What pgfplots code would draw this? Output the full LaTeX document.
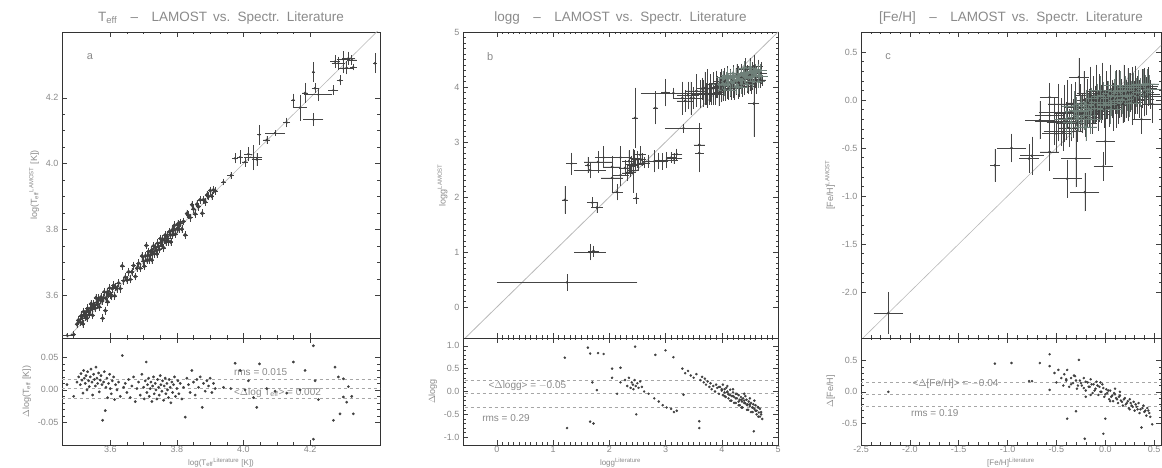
\documentclass[border=0pt]{standalone}
\usepackage{fontspec}
\setmainfont{Liberation Sans}
\usepackage{pgfplots}
\pgfplotsset{compat=1.18}
\usepackage{pgfplotstable}

\definecolor{txt}{HTML}{8A8A8A}
\definecolor{pts}{HTML}{404040}
\definecolor{ebar}{HTML}{454545}
\definecolor{dense}{HTML}{6F8079}
\definecolor{refl}{HTML}{B8B8B8}

% ---------------- Panel a ----------------
\pgfplotstableread{
x d
3.490 -0.010
3.500 0.012
3.505 0.020
3.510 0.008
3.512 0.025
3.515 0.015
3.518 -0.005
3.520 0.030
3.522 0.018
3.525 0.010
3.527 0.022
3.530 0.000
3.532 0.028
3.535 0.014
3.537 0.005
3.540 0.020
3.542 0.032
3.545 0.012
3.547 -0.008
3.550 0.024
3.552 0.016
3.555 0.006
3.557 0.035
3.560 0.018
3.562 0.010
3.565 0.026
3.567 -0.003
3.570 0.015
3.572 0.022
3.575 0.008
3.577 -0.047
3.580 0.012
3.582 0.028
3.585 -0.032
3.587 0.004
3.590 0.018
3.592 -0.012
3.595 0.010
3.598 0.024
3.600 0.002
3.603 -0.006
3.606 0.014
3.610 0.020
3.613 -0.015
3.616 0.008
3.620 0.000
3.625 0.012
3.630 -0.010
3.636 0.053
3.640 0.004
3.645 0.010
3.650 -0.004
3.655 0.016
3.660 -0.012
3.665 0.006
3.670 0.020
3.675 -0.018
3.680 0.002
3.685 0.012
3.690 -0.008
3.695 0.024
3.700 0.004
3.702 -0.014
3.705 0.014
3.708 0.043
3.710 -0.004
3.712 0.008
3.715 0.018
3.717 -0.010
3.720 0.002
3.722 0.012
3.725 -0.018
3.727 0.006
3.730 0.020
3.732 -0.006
3.735 0.010
3.737 0.000
3.740 -0.014
3.742 0.016
3.745 0.004
3.747 -0.008
3.750 0.022
3.752 0.008
3.755 -0.002
3.757 0.014
3.760 -0.016
3.762 0.006
3.765 0.018
3.767 -0.006
3.770 0.010
3.772 0.000
3.775 -0.012
3.777 0.016
3.780 0.004
3.782 -0.020
3.785 0.012
3.787 -0.004
3.790 0.008
3.793 0.020
3.796 -0.010
3.800 0.002
3.803 0.014
3.806 -0.006
3.810 0.010
3.815 -0.014
3.820 0.004
3.825 -0.042
3.830 0.018
3.835 0.008
3.840 -0.004
3.845 0.030
3.850 0.012
3.855 -0.008
3.860 0.016
3.865 0.004
3.870 0.020
3.876 -0.027
3.880 0.010
3.885 -0.002
3.890 0.014
3.895 0.006
3.900 0.018
3.905 -0.004
3.910 0.010
3.915 0.002
}\tabAdense

\pgfplotstableread{
x d ex ey
3.470 0.008 0.020 0.006
3.940 0.004 0.008 0.010
3.962 0.002 0.010 0.012
3.975 0.041 0.008 0.015
3.990 0.030 0.008 0.020
4.005 0.000 0.010 0.015
4.015 0.014 0.012 0.020
4.030 -0.012 0.027 0.038
4.040 -0.027 0.015 0.020
4.048 0.040 0.006 0.030
4.070 0.002 0.010 0.012
4.095 -0.002 0.030 0.008
4.130 -0.005 0.010 0.015
4.150 0.043 0.006 0.020
4.170 0.000 0.020 0.040
4.185 0.030 0.008 0.030
4.210 0.068 0.005 0.030
4.215 0.014 0.010 0.015
4.225 -0.015 0.042 0.020
4.210 -0.076 0.030 0.020
4.270 -0.047 0.015 0.015
4.275 0.035 0.015 0.020
4.285 0.020 0.020 0.020
4.290 -0.037 0.010 0.015
4.300 0.017 0.020 0.025
4.300 -0.011 0.015 0.015
4.310 -0.019 0.020 0.020
4.315 0.005 0.020 0.020
4.325 -0.010 0.015 0.015
4.330 -0.037 0.010 0.010
4.395 -0.090 0.005 0.030
}\tabAhot

% ---------------- Panel b ----------------
\pgfplotstableread{
x d ex ey
1.25 -0.80 1.25 0.15
1.66 -0.66 0.28 0.15
1.72 -0.70 0.10 0.10
1.21 0.74 0.05 0.25
1.33 1.28 0.10 0.20
1.70 0.20 0.10 0.10
1.78 0.03 0.10 0.10
1.66 0.83 0.28 0.15
1.80 0.84 0.25 0.20
1.90 0.82 0.15 0.20
1.62 0.96 0.05 0.15
2.05 0.50 0.15 0.20
2.14 -0.05 0.10 0.15
2.20 0.52 0.20 0.20
2.05 0.30 0.20 0.25
2.20 0.20 0.15 0.20
2.28 0.25 0.10 0.15
2.32 0.12 0.10 0.15
2.35 0.30 0.12 0.20
2.38 0.08 0.10 0.10
2.40 0.20 0.10 0.15
2.42 0.15 0.08 0.10
2.43 0.05 0.10 0.40
2.45 0.25 0.10 0.15
2.46 0.98 0.05 0.55
2.47 0.12 0.10 0.10
2.48 -0.50 0.05 0.10
2.50 0.18 0.12 0.15
2.52 0.08 0.10 0.10
2.55 0.22 0.10 0.15
2.58 0.10 0.08 0.12
2.62 0.00 0.10 0.10
2.70 -0.05 0.10 0.12
2.82 0.80 0.05 0.30
2.80 -0.15 0.15 0.20
2.88 -0.22 0.10 0.15
2.95 -0.30 0.10 0.15
3.00 0.90 0.08 0.25
3.02 -0.35 0.20 0.15
3.10 -0.38 0.10 0.10
3.15 -0.45 0.15 0.10
3.20 -0.42 0.10 0.10
3.32 -0.07 0.33 0.08
3.14 0.75 0.58 0.10
3.30 0.50 0.15 0.30
3.35 0.40 0.15 0.20
3.40 0.45 0.20 0.25
3.45 0.35 0.10 0.30
3.50 0.30 0.15 0.20
3.55 0.38 0.20 0.30
3.60 -0.65 0.10 0.40
3.60 -0.80 0.08 0.35
3.62 0.25 0.15 0.25
3.65 0.32 0.10 0.20
3.68 0.20 0.20 0.25
3.70 0.28 0.15 0.30
3.72 0.15 0.10 0.20
3.75 0.22 0.20 0.35
3.78 0.10 0.15 0.20
3.80 0.18 0.10 0.25
3.82 0.05 0.20 0.20
3.85 0.12 0.15 0.30
3.88 0.00 0.10 0.20
3.90 0.15 0.20 0.25
3.92 0.08 0.15 0.20
3.95 -0.05 0.10 0.25
3.97 0.10 0.20 0.20
4.00 0.02 0.15 0.30
4.02 -0.08 0.10 0.20
4.05 0.05 0.20 0.25
4.07 -0.12 0.15 0.20
4.10 -0.02 0.10 0.30
4.12 -0.15 0.20 0.20
4.15 -0.08 0.15 0.25
4.17 -0.20 0.10 0.20
4.20 -0.10 0.20 0.30
4.22 -0.25 0.15 0.20
4.25 -0.15 0.10 0.25
4.27 -0.05 0.15 0.20
4.30 -0.22 0.20 0.30
4.32 -0.30 0.10 0.20
4.35 -0.18 0.15 0.25
4.37 -0.35 0.20 0.20
4.40 -0.25 0.10 0.30
4.42 -0.10 0.15 0.20
4.45 -0.30 0.20 0.25
4.47 -0.40 0.10 0.20
4.50 -0.28 0.15 0.30
4.52 -0.45 0.10 0.20
4.55 -0.35 0.20 0.25
4.57 -0.87 0.10 0.60
4.58 -0.20 0.15 0.20
4.60 -0.42 0.10 0.20
4.62 -0.50 0.15 0.25
4.65 -0.35 0.10 0.20
4.68 -0.55 0.10 0.15
4.70 -0.45 0.10 0.20
4.72 -0.60 0.05 0.10
}\tabB

\pgfplotstableread{
x d
3.95 0.10
4.00 0.05
4.02 0.15
4.05 -0.02
4.08 0.08
4.10 0.00
4.12 -0.06
4.15 0.04
4.18 -0.10
4.20 -0.02
4.22 -0.12
4.25 -0.05
4.27 -0.15
4.30 -0.08
4.32 -0.18
4.34 -0.12
4.36 -0.22
4.38 -0.15
4.40 -0.20
4.42 -0.26
4.44 -0.18
4.46 -0.28
4.48 -0.22
4.50 -0.32
4.52 -0.25
4.54 -0.35
4.56 -0.28
4.58 -0.38
4.60 -0.30
4.62 -0.42
4.64 -0.34
4.66 -0.46
4.68 -0.38
4.70 -0.50
4.10 0.12
4.20 0.05
4.30 -0.30
4.40 -0.05
4.50 -0.15
4.35 -0.35
4.45 -0.40
4.25 -0.25
4.15 -0.20
4.05 -0.10
4.55 -0.45
4.65 -0.55
}\tabBdense

% ---------------- Panel c ----------------
\pgfplotstableread{
x d ex ey
-2.22 0.00 0.15 0.22
-1.13 0.45 0.05 0.17
-0.96 0.46 0.15 0.15
-0.78 0.17 0.10 0.15
-0.75 0.17 0.12 0.20
-0.67 0.46 0.15 0.20
-0.57 0.60 0.10 0.15
-0.57 0.41 0.15 0.30
-0.57 0.03 0.10 0.20
-0.52 0.30 0.20 0.25
-0.50 0.15 0.15 0.20
-0.48 0.35 0.20 0.30
-0.45 0.22 0.15 0.25
-0.43 0.10 0.20 0.20
-0.42 0.28 0.10 0.30
-0.40 0.18 0.15 0.20
-0.39 0.35 0.20 0.25
-0.39 -0.43 0.15 0.20
-0.37 0.08 0.10 0.20
-0.35 0.22 0.20 0.30
-0.33 0.14 0.15 0.20
-0.31 0.25 0.10 0.25
-0.30 -0.31 0.15 0.30
-0.29 0.05 0.20 0.20
-0.27 0.51 0.10 0.20
-0.26 0.18 0.15 0.25
-0.24 0.10 0.20 0.20
-0.22 0.22 0.10 0.30
-0.21 -0.75 0.15 0.20
-0.20 0.02 0.15 0.20
-0.18 0.15 0.20 0.25
-0.16 0.08 0.10 0.20
-0.15 0.20 0.15 0.30
-0.13 -0.02 0.20 0.20
-0.12 0.12 0.15 0.25
-0.10 0.05 0.10 0.20
-0.09 0.16 0.20 0.30
-0.07 -0.05 0.15 0.20
-0.06 0.08 0.10 0.25
-0.04 0.00 0.20 0.20
-0.03 0.12 0.15 0.30
-0.02 -0.67 0.10 0.15
-0.01 -0.08 0.15 0.20
0.00 -0.43 0.10 0.25
0.01 0.04 0.20 0.25
0.02 -0.02 0.15 0.20
0.04 -0.12 0.10 0.20
0.05 0.02 0.20 0.30
0.07 -0.06 0.15 0.20
0.08 -0.15 0.10 0.25
0.10 -0.04 0.20 0.20
0.11 -0.10 0.15 0.30
0.13 -0.18 0.10 0.20
0.14 -0.08 0.15 0.25
0.16 -0.14 0.20 0.20
0.18 -0.22 0.10 0.20
0.19 -0.12 0.15 0.30
0.21 -0.20 0.10 0.20
0.23 -0.15 0.20 0.25
0.24 -0.26 0.15 0.20
0.26 -0.18 0.10 0.20
0.28 -0.24 0.15 0.30
0.30 -0.30 0.10 0.20
0.31 -0.20 0.20 0.25
0.33 -0.28 0.10 0.20
0.35 -0.34 0.15 0.20
0.37 -0.57 0.10 0.15
0.38 -0.26 0.15 0.20
0.40 -0.32 0.10 0.25
0.42 -0.38 0.15 0.20
0.44 -0.30 0.10 0.20
0.46 -0.40 0.10 0.15
0.48 -0.52 0.10 0.20
}\tabC

\pgfplotstableread{
x d
-0.40 0.20
-0.35 0.12
-0.30 0.18
-0.28 0.10
-0.25 0.14
-0.22 0.06
-0.20 0.16
-0.17 0.08
-0.14 0.12
-0.11 0.02
-0.08 0.10
-0.05 0.00
-0.02 0.06
0.00 -0.04
0.03 0.02
0.06 -0.08
0.09 -0.02
0.12 -0.12
0.15 -0.06
0.17 -0.16
0.20 -0.10
0.22 -0.18
0.25 -0.12
0.27 -0.22
0.29 -0.16
0.32 -0.24
0.34 -0.18
0.36 -0.28
0.39 -0.22
0.41 -0.30
0.43 -0.26
0.45 -0.34
-0.15 -0.05
-0.05 0.15
0.05 -0.15
0.15 0.00
0.25 -0.28
-0.32 0.26
-0.20 -0.08
0.10 0.05
}\tabCdense

\pgfplotsset{
  base/.style={scale only axis,
    axis line style={black!80, line width=0.7pt},
    tick align=inside, major tick length=5pt, minor tick length=2.5pt,
    tick style={black!75, line width=0.5pt},
    ticklabel style={font=\fontsize{9}{10}\selectfont, text=txt},
    /pgf/number format/assume math mode=true,
    scaled ticks=false,
    label style={font=\fontsize{9}{10}\selectfont, text=txt},
    title style={font=\fontsize{13.5}{15}\selectfont, text=txt, yshift=-2pt},
  },
  mainax/.style={base, height=306pt, xticklabels={}},
  resax/.style={base, height=107pt,
    xticklabel style={yshift=2pt},
    xlabel style={at={(axis description cs:0.5,0)}, anchor=north, yshift=-9.5pt, font=\fontsize{8}{9}\selectfont}},
  ptsty/.style={only marks, mark=*, mark size=1.05pt, draw=pts, fill=pts},
  ebars/.style={error bars/.cd, x dir=both, y dir=both, x explicit, y explicit,
    error mark=none, error bar style={ebar, line width=0.55pt}},
  resline/.style={gray!70, dashed, line width=0.6pt},
  fx1/.style={xticklabel style={/pgf/number format/fixed, /pgf/number format/fixed zerofill, /pgf/number format/precision=1}},
  fy1/.style={yticklabel style={/pgf/number format/fixed, /pgf/number format/fixed zerofill, /pgf/number format/precision=1}},
  fy2/.style={yticklabel style={/pgf/number format/fixed, /pgf/number format/fixed zerofill, /pgf/number format/precision=2}},
}
\tikzset{
  annot/.style={font=\fontsize{10}{11}\selectfont, text=txt, anchor=west},
  letter/.style={font=\fontsize{11}{12}\selectfont, text=txt},
}

\begin{document}
\begin{tikzpicture}[x=1pt,y=1pt]
\useasboundingbox (0pt,0pt) rectangle (1162pt,468pt);

% ===== a main =====
\begin{axis}[mainax, fy1, at={(62pt,130pt)}, anchor=south west, width=318pt,
  xmin=3.455, xmax=4.41, ymin=3.47, ymax=4.40,
  xtick={3.6,3.8,4.0,4.2}, ytick={3.6,3.8,4.0,4.2}, minor tick num=3,
  ylabel={log(T\textsubscript{eff}\textsuperscript{LAMOST} [K])},
  title={T\textsubscript{eff}\quad--\quad LAMOST\, vs.\, Spectr.\, Literature}]
\addplot[refl, line width=0.6pt] coordinates {(3.40,3.40) (4.45,4.45)};
\addplot[ptsty, mark size=1.8pt, error bars/.cd, x dir=both, y dir=both, x fixed=0.007, y fixed=0.012,
  error mark=none, error bar style={ebar, line width=0.5pt}]
  table[x=x, y expr=\thisrow{x}+\thisrow{d}]{\tabAdense};
\addplot[ptsty, ebars] table[x=x, y expr=\thisrow{x}+\thisrow{d}, x error=ex, y error=ey]{\tabAhot};
\node[letter] at (rel axis cs:0.088,0.918) {a};
\end{axis}

% ===== a residual =====
\begin{axis}[resax, fx1, fy2, at={(62pt,23pt)}, anchor=south west, width=318pt,
  xmin=3.455, xmax=4.41, ymin=-0.085, ymax=0.08,
  xtick={3.6,3.8,4.0,4.2}, ytick={-0.05,0,0.05}, minor x tick num=3,
  minor y tick num=4,
  ylabel={$\Delta$log(T\textsubscript{eff} [K])},
  xlabel={log(T\textsubscript{eff}\textsuperscript{Literature} [K])}]
\addplot[resline] coordinates {(3.4,0.002) (4.5,0.002)};
\addplot[resline] coordinates {(3.4,0.017) (4.5,0.017)};
\addplot[resline] coordinates {(3.4,-0.013) (4.5,-0.013)};
\addplot[ptsty, mark size=1.2pt] table[x=x, y=d]{\tabAdense};
\addplot[ptsty, mark size=1.2pt] table[x=x, y=d]{\tabAhot};
\node[annot] at (rel axis cs:0.53,0.68) {rms = 0.015};
\node[annot] at (rel axis cs:0.53,0.49) {<$\Delta$log T\textsubscript{eff}> = 0.002};
\end{axis}

% ===== b main =====
\begin{axis}[mainax, at={(463pt,130pt)}, anchor=south west, width=315pt,
  xmin=-0.6, xmax=5, ymin=-0.56, ymax=5,
  xtick={0,1,2,3,4,5}, ytick={0,1,2,3,4,5}, minor tick num=9,
  ylabel={logg\textsuperscript{LAMOST}},
  title={logg\quad--\quad LAMOST\, vs.\, Spectr.\, Literature}]
\addplot[refl, line width=0.8pt] coordinates {(-1,-1) (6,6)};
\addplot[ptsty, ebars] table[x=x, y expr=\thisrow{x}+\thisrow{d}, x error=ex, y error=ey]{\tabB};
\addplot[only marks, mark=*, mark size=1.5pt, draw=dense, fill=dense,
  error bars/.cd, x dir=both, y dir=both, x fixed=0.12, y fixed=0.12,
  error mark=none, error bar style={dense, line width=0.5pt}]
  table[x=x, y expr=\thisrow{x}+\thisrow{d}]{\tabBdense};
\node[letter] at (rel axis cs:0.086,0.92) {b};
\end{axis}

% ===== b residual =====
\begin{axis}[resax, fy1, at={(463pt,23pt)}, anchor=south west, width=315pt,
  xmin=-0.6, xmax=5, ymin=-1.17, ymax=1.17,
  xtick={0,1,2,3,4,5}, ytick={-1,-0.5,0,0.5,1}, minor x tick num=9, minor y tick num=4,
  ylabel={$\Delta$logg},
  xlabel={logg\textsuperscript{Literature}}]
\addplot[resline] coordinates {(-1,-0.05) (6,-0.05)};
\addplot[resline] coordinates {(-1,0.24) (6,0.24)};
\addplot[resline] coordinates {(-1,-0.34) (6,-0.34)};
\addplot[ptsty] table[x=x, y=d]{\tabB};
\addplot[ptsty] table[x=x, y=d]{\tabBdense};
\node[annot] at (rel axis cs:0.07,0.555) {<$\Delta$logg> = $-$0.05};
\node[annot] at (rel axis cs:0.05,0.25) {rms = 0.29};
\end{axis}

% ===== c main =====
\begin{axis}[mainax, fy1, at={(861pt,130pt)}, anchor=south west, width=300pt,
  xmin=-2.5, xmax=0.57, ymin=-2.48, ymax=0.71,
  xtick={-2.5,-2,-1.5,-1,-0.5,0,0.5}, ytick={-2,-1.5,-1,-0.5,0,0.5}, minor tick num=4,
  ylabel={[Fe/H]\textsuperscript{LAMOST}},
  title={[Fe/H]\quad--\quad LAMOST\, vs.\, Spectr.\, Literature}]
\addplot[refl, line width=0.6pt] coordinates {(-3,-3) (1,1)};
\addplot[ptsty, ebars] table[x=x, y expr=\thisrow{x}+\thisrow{d}, x error=ex, y error=ey]{\tabC};
\addplot[only marks, mark=*, mark size=1.3pt, draw=dense, fill=dense,
  error bars/.cd, x dir=both, y dir=both, x fixed=0.12, y fixed=0.15,
  error mark=none, error bar style={dense, line width=0.5pt}]
  table[x=x, y expr=\thisrow{x}+\thisrow{d}]{\tabCdense};
\node[letter] at (rel axis cs:0.09,0.92) {c};
\end{axis}

% ===== c residual =====
\begin{axis}[resax, fx1, fy1, at={(861pt,23pt)}, anchor=south west, width=300pt,
  xmin=-2.5, xmax=0.57, ymin=-0.85, ymax=0.86,
  xtick={-2.5,-2,-1.5,-1,-0.5,0,0.5}, ytick={-0.5,0,0.5}, minor tick num=4,
  ylabel={$\Delta$[Fe/H]},
  xlabel={[Fe/H]\textsuperscript{Literature}}]
\addplot[resline] coordinates {(-3,-0.04) (1,-0.04)};
\addplot[resline] coordinates {(-3,0.15) (1,0.15)};
\addplot[resline] coordinates {(-3,-0.23) (1,-0.23)};
\addplot[ptsty] table[x=x, y=d]{\tabC};
\addplot[ptsty] table[x=x, y=d]{\tabCdense};
\node[annot] at (rel axis cs:0.16,0.57) {<$\Delta$[Fe/H]> = $-$0.04};
\node[annot] at (rel axis cs:0.155,0.30) {rms = 0.19};
\end{axis}
\end{tikzpicture}
\end{document}
